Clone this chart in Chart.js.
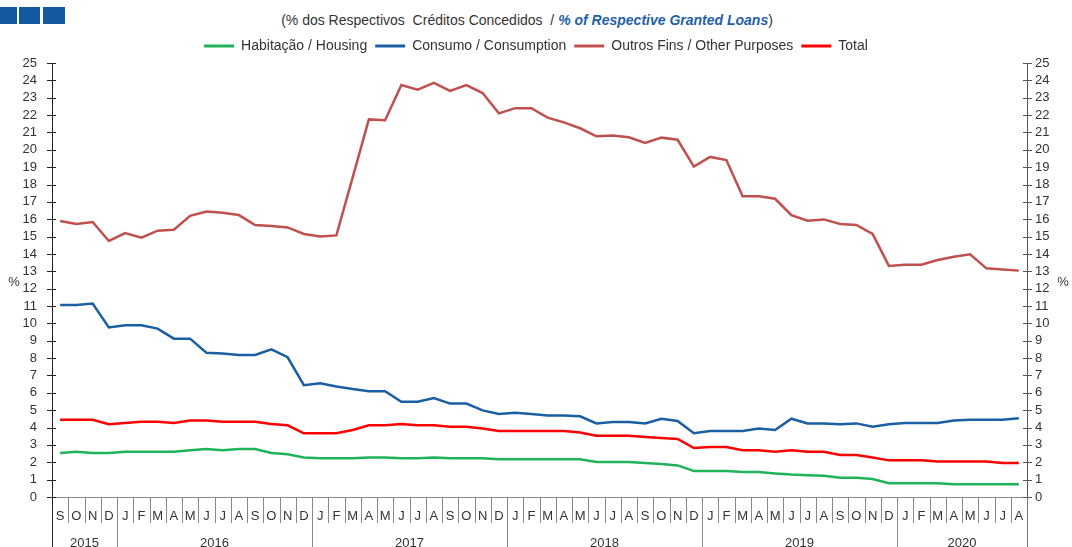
<!DOCTYPE html>
<html>
<head>
<meta charset="utf-8">
<script src="https://cdn.jsdelivr.net/npm/chart.js@4.4.1/dist/chart.umd.min.js"></script>
<style>
  html, body { margin: 0; padding: 0; background: #fff; }
  #wrap { position: relative; width: 1072px; height: 547px; overflow: hidden; font-family: 'Liberation Sans', Arial, sans-serif; }
  .sq { position: absolute; top: 7px; height: 17px; background: #1259a0; }
  #sub { position: absolute; top: 12px; left: 0; width: 1054px; text-align: center; font-size: 14px; color: #333; white-space: pre; }
  #sub b { color: #1f5fa8; font-style: italic; }
  canvas { position: absolute; left: 0; top: 0; }
</style>
</head>
<body>
<div id="wrap">
  <div class="sq" style="left:0;width:17px"></div>
  <div class="sq" style="left:19px;width:21px"></div>
  <div class="sq" style="left:43px;width:22px"></div>
  <div id="sub">(% dos Respectivos  Créditos Concedidos  / <b>% of Respective Granted Loans</b>)</div>
  <canvas id="c" width="1072" height="547"></canvas>
</div>
<script>
// Month letters, Sep 2015 .. Aug 2020
const MONTHS = ['S','O','N','D',
  'J','F','M','A','M','J','J','A','S','O','N','D',
  'J','F','M','A','M','J','J','A','S','O','N','D',
  'J','F','M','A','M','J','J','A','S','O','N','D',
  'J','F','M','A','M','J','J','A','S','O','N','D',
  'J','F','M','A','M','J','J','A'];
const YEARS = ['2015','2016','2017','2018','2019','2020'];
const MONTHS_PER_YEAR = [4, 12, 12, 12, 12, 8];

const HOUSING = [2.53, 2.61, 2.53, 2.53, 2.61, 2.61, 2.61, 2.61, 2.69, 2.76, 2.69, 2.76, 2.76, 2.53, 2.46, 2.28,
  2.23, 2.23, 2.23, 2.28, 2.28, 2.23, 2.23, 2.28, 2.23, 2.23, 2.23, 2.17, 2.17, 2.17, 2.17,
  2.17, 2.17, 2.02, 2.02, 2.02, 1.96, 1.90, 1.82, 1.50, 1.50, 1.50, 1.44, 1.44, 1.36, 1.29, 1.25,
  1.23, 1.11, 1.11, 1.04, 0.79, 0.79, 0.79, 0.79, 0.73, 0.73, 0.73, 0.73, 0.73];
const CONSUMPTION = [11.06, 11.06, 11.14, 9.77, 9.89, 9.89, 9.70, 9.12, 9.12, 8.31, 8.26, 8.18, 8.18, 8.51, 8.05, 6.44,
  6.55, 6.36, 6.22, 6.09, 6.09, 5.49, 5.49, 5.70, 5.38, 5.38, 4.99, 4.78, 4.86, 4.78, 4.70,
  4.70, 4.65, 4.24, 4.32, 4.32, 4.24, 4.51, 4.38, 3.67, 3.80, 3.80, 3.80, 3.94, 3.86, 4.51, 4.24,
  4.24, 4.19, 4.24, 4.05, 4.19, 4.26, 4.26, 4.26, 4.40, 4.45, 4.45, 4.45, 4.53];
const OTHER = [15.90, 15.73, 15.84, 14.75, 15.20, 14.94, 15.34, 15.40, 16.20, 16.44, 16.38, 16.24, 15.67, 15.61, 15.53, 15.15,
  15.00, 15.07, 18.40, 21.75, 21.70, 23.73, 23.46, 23.85, 23.39, 23.73, 23.27, 22.10, 22.40, 22.40, 21.85,
  21.58, 21.24, 20.78, 20.83, 20.72, 20.39, 20.70, 20.58, 19.03, 19.59, 19.41, 17.32, 17.32, 17.18, 16.24, 15.92,
  15.99, 15.73, 15.67, 15.15, 13.31, 13.38, 13.38, 13.65, 13.84, 13.98, 13.17, 13.11, 13.04];
const TOTAL = [4.45, 4.45, 4.45, 4.19, 4.26, 4.34, 4.34, 4.26, 4.40, 4.40, 4.34, 4.34, 4.34, 4.20, 4.13, 3.67,
  3.67, 3.67, 3.86, 4.13, 4.13, 4.20, 4.13, 4.13, 4.05, 4.05, 3.94, 3.80, 3.80, 3.80, 3.80,
  3.80, 3.72, 3.53, 3.53, 3.53, 3.46, 3.40, 3.34, 2.82, 2.88, 2.88, 2.69, 2.69, 2.61, 2.69, 2.61,
  2.61, 2.42, 2.42, 2.28, 2.11, 2.11, 2.11, 2.04, 2.04, 2.04, 2.04, 1.96, 1.96];

const Y_MIN = 0, Y_MAX = 25;
const FAMILY = "'Liberation Sans', Arial, sans-serif";
const FONT = { family: FAMILY, size: 13 };
const LEGEND_FONT = { family: FAMILY, size: 14 };

function line(ctx, x1, y1, x2, y2) {
  ctx.beginPath(); ctx.moveTo(x1, y1); ctx.lineTo(x2, y2); ctx.stroke();
}

// crossing ticks on the y axes, month/year separators, year labels, % units
const axisDecor = {
  id: 'axisDecor',
  afterDraw(chart) {
    const { ctx, chartArea: a, scales: { x, y } } = chart;
    const H = chart.height;
    ctx.save();
    ctx.lineWidth = 1;
    for (let v = Y_MIN; v <= Y_MAX; v++) {
      const py = Math.round(y.getPixelForValue(v)) + 0.5;
      ctx.strokeStyle = '#222';
      line(ctx, a.left - 5, py, a.left + 4, py);
      ctx.strokeStyle = '#555';
      line(ctx, a.right - 4, py, a.right + 5, py);
    }
    // category boundaries
    const n = MONTHS.length;
    const bnd = i => i === 0 ? a.left : i === n ? a.right
      : (x.getPixelForValue(i - 1) + x.getPixelForValue(i)) / 2;
    const yearStarts = [0];
    MONTHS_PER_YEAR.forEach(c => yearStarts.push(yearStarts[yearStarts.length - 1] + c));
    ctx.strokeStyle = '#888';
    for (let i = 1; i < n; i++) {
      const px = Math.round(bnd(i)) + 0.5;
      const long = yearStarts.includes(i);
      line(ctx, px, a.bottom, px, long ? H : a.bottom + 26);
    }
    ctx.strokeStyle = '#222';
    line(ctx, Math.round(a.left) + 0.5, a.bottom, Math.round(a.left) + 0.5, H);
    ctx.strokeStyle = '#777';
    line(ctx, Math.round(a.right) + 0.5, a.bottom, Math.round(a.right) + 0.5, H);
    // year labels
    ctx.fillStyle = '#333';
    ctx.font = `${FONT.size}px ${FONT.family}`;
    ctx.textAlign = 'center';
    ctx.textBaseline = 'top';
    YEARS.forEach((yr, k) => {
      const cx = (bnd(yearStarts[k]) + bnd(yearStarts[k + 1])) / 2;
      ctx.fillText(yr, cx, a.bottom + 40);
    });
    // unit labels
    const midY = y.getPixelForValue(12.5);
    ctx.textBaseline = 'middle';
    ctx.fillText('%', 14, midY + 2);
    ctx.fillText('%', 1063, midY + 2);
    ctx.restore();
  }
};

const ds = (label, data, color) => ({
  label, data,
  borderColor: color, backgroundColor: color,
  borderWidth: 2.5, pointRadius: 0, tension: 0, fill: false,
});

new Chart(document.getElementById('c'), {
  type: 'line',
  data: {
    labels: MONTHS,
    datasets: [
      ds('Habitação / Housing', HOUSING, '#1fb35a'),
      ds('Consumo / Consumption', CONSUMPTION, '#1a5fa3'),
      ds('Outros Fins / Other Purposes', OTHER, '#c0504d'),
      ds('Total', TOTAL, '#ff0000'),
    ],
  },
  options: {
    responsive: false,
    animation: false,
    devicePixelRatio: 1,
    layout: { padding: { top: 31, left: 0, right: 0, bottom: 0 } },
    plugins: {
      legend: {
        position: 'top',
        labels: {
          color: '#333', font: LEGEND_FONT, boxWidth: 30, boxHeight: 3, padding: 8,
          generateLabels: chart => Chart.defaults.plugins.legend.labels.generateLabels(chart)
            .map(l => ({ ...l, lineWidth: 0 })),
        },
      },
      tooltip: { enabled: false },
    },
    scales: {
      x: {
        type: 'category',
        offset: true,
        grid: { display: false, drawTicks: false },
        border: { color: '#888' },
        ticks: { color: '#333', font: FONT, autoSkip: false, maxRotation: 0, padding: 12 },
        afterFit: s => { s.height = 50; },
      },
      y: {
        position: 'left',
        min: Y_MIN, max: Y_MAX,
        grid: { drawOnChartArea: false, drawTicks: false },
        border: { color: '#222' },
        ticks: { stepSize: 1, autoSkip: false, color: '#333', font: FONT, padding: 15 },
        afterFit: s => { s.width = 52; },
      },
      y2: {
        position: 'right',
        min: Y_MIN, max: Y_MAX,
        grid: { drawOnChartArea: false, drawTicks: false },
        border: { color: '#555' },
        ticks: { stepSize: 1, autoSkip: false, color: '#333', font: FONT, padding: 8 },
        afterFit: s => { s.width = 45; },
      },
    },
  },
  plugins: [axisDecor],
});
</script>
</body>
</html>
